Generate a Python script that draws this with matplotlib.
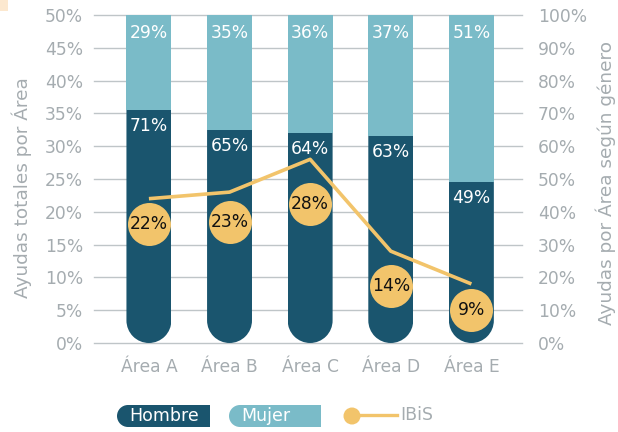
import matplotlib
matplotlib.use("Agg")
import matplotlib.pyplot as plt
from matplotlib.path import Path
from matplotlib.patches import PathPatch, Rectangle, Ellipse
from matplotlib.lines import Line2D
import matplotlib.transforms as mtransforms
import numpy as np

plt.rcParams['font.family'] = ['DejaVu Sans']

# ---- data ----
areas = ["Área A", "Área B", "Área C", "Área D", "Área E"]
hombre = [71, 65, 64, 63, 49]      # % of grants per area, men
mujer = [29, 35, 36, 37, 51]       # % of grants per area, women
ibis = [22, 23, 28, 14, 9]         # % of total grants per area
series_names = ["Hombre", "Mujer", "IBiS"]
left_ticks = [0, 5, 10, 15, 20, 25, 30, 35, 40, 45, 50]
right_ticks = [0, 10, 20, 30, 40, 50, 60, 70, 80, 90, 100]

# label placement below the line points (pixels)
circle_drop = [25, 30, 45, 35, 26]

DARK = "#1A556E"
LIGHT = "#7ABBC8"
GOLD = "#F2C46B"
GREY = "#A5ACB0"
GRID = "#BFC5C8"
FS = 12.3

W, H = 618, 432
fig = plt.figure(figsize=(W / 100, H / 100), dpi=100)
ax_l, ax_r_px, ax_b, ax_t = 94, 522, 343, 15
ax = fig.add_axes([ax_l / W, 1 - ax_b / H, (ax_r_px - ax_l) / W, (ax_b - ax_t) / H])
ax2 = ax.twinx()

x = np.arange(len(areas))
spacing = 80.75
ax.set_xlim(-55 / spacing, 4 + 50.7 / spacing)
ax.set_ylim(0, 100)
ax2.set_ylim(0, 50)

for a in (ax, ax2):
    for s in a.spines.values():
        s.set_visible(False)

# bars on the right-hand (gender share) scale
ax.yaxis.tick_right()
ax.set_yticks(right_ticks)
ax.set_yticklabels([f"{t}%" for t in right_ticks])
ax.tick_params(axis="y", length=0, pad=11.5, labelsize=FS, labelcolor=GREY)
ax.set_xticks(x)
ax.set_xticklabels(areas)
ax.tick_params(axis="x", length=0, pad=10.5, labelsize=FS, labelcolor=GREY)
for t in right_ticks:
    ax.axhline(t, color=GRID, lw=1.0, zorder=0, clip_on=False)

ax2.yaxis.tick_left()
ax2.set_yticks(left_ticks)
ax2.set_yticklabels([f"{t}%" for t in left_ticks])
ax2.tick_params(axis="y", length=0, pad=8, labelsize=FS, labelcolor=GREY)

# axis titles
fig.text(22 / W, 1 - 188 / H, "Ayudas totales por Área", rotation=90, color=GREY,
         fontsize=13.3, ha="center", va="center")
fig.text(606 / W, 1 - 183 / H, "Ayudas por Área según género", rotation=90, color=GREY,
         fontsize=13.3, ha="center", va="center")

bw = 45 / spacing
bars_h = ax.bar(x, hombre, width=bw, color=DARK, zorder=2)
bars_m = ax.bar(x, mujer, bottom=hombre, width=bw, color=LIGHT, zorder=2)

# rounded bottoms: clip each dark bar to a capsule-bottom outline
ry = (bw / 2) * spacing * 100 / (ax_b - ax_t)
for rect in bars_h:
    x0 = rect.get_x()
    x1 = x0 + rect.get_width()
    xc = (x0 + x1) / 2
    arc = Path.arc(180, 360)
    av = arc.vertices * np.array([bw / 2, ry]) + np.array([xc, ry])
    verts = [(x0, 100)] + list(av) + [(x1, 100), (x0, 100)]
    codes = [Path.MOVETO] + [Path.LINETO] + list(arc.codes[1:]) + [Path.LINETO, Path.CLOSEPOLY]
    clip = PathPatch(Path(verts, codes), transform=ax.transData, visible=False)
    ax.add_patch(clip)
    rect.set_clip_path(clip)

for xi, h in zip(x, hombre):
    ax.annotate(f"{h}%", (xi, h), xytext=(0, -11.5), textcoords="offset points",
                ha="center", va="center", color="white", fontsize=FS, zorder=3)
for xi, h, m in zip(x, hombre, mujer):
    ax.annotate(f"{m}%", (xi, h + m), xytext=(0, -13), textcoords="offset points",
                ha="center", va="center", color="white", fontsize=FS, zorder=3)

# IBiS line on the left-hand (total) scale
ax2.plot(x, ibis, color=GOLD, lw=2.6, solid_capstyle="butt", zorder=4)
for xi, v, d in zip(x, ibis, circle_drop):
    tr = mtransforms.offset_copy(ax2.transData, fig=fig, x=0, y=-d, units="dots")
    ax2.scatter([xi], [v], s=(43 * 0.72) ** 2, color=GOLD, transform=tr,
                zorder=5, linewidths=0)
    ax2.text(xi, v, f"{v}%", transform=tr, ha="center", va="center",
             color="#111111", fontsize=FS, zorder=6)

# legend drawn in pixel space along the bottom
def fx(px):
    return px / W

def fy(py):
    return 1 - py / H

def capsule_key(x0, x1, ytop, ybot, color, label):
    r = (ybot - ytop) / 2
    fig.patches.append(Rectangle((fx(x0 + r), fy(ybot)), fx(x1 - x0 - r), (ybot - ytop) / H,
                                 transform=fig.transFigure, color=color, lw=0))
    fig.patches.append(Ellipse((fx(x0 + r), fy(ytop + r)), 2 * r / W, 2 * r / H,
                               transform=fig.transFigure, color=color, lw=0))
    fig.text(fx(x0 + 12), fy(ytop + r), label, color="white", fontsize=12.5,
             ha="left", va="center")

capsule_key(117, 210, 405, 427, DARK, series_names[0])
capsule_key(229, 321, 405, 427, LIGHT, series_names[1])
fig.lines.append(Line2D([fx(352), fx(397)], [fy(415), fy(415)], color=GOLD, lw=2.4,
                        transform=fig.transFigure))
fig.patches.append(Ellipse((fx(352), fy(416)), 17 / W, 17 / H, transform=fig.transFigure,
                           color=GOLD, lw=0))
fig.text(fx(400), fy(415), series_names[2], color=GREY, fontsize=12.5, ha="left", va="center")

# small corner tab
fig.patches.append(Rectangle((0, fy(11)), fx(8), 11 / H, transform=fig.transFigure,
                             color="#FCE8CF", lw=0))

fig.savefig("out.png", dpi=100)
